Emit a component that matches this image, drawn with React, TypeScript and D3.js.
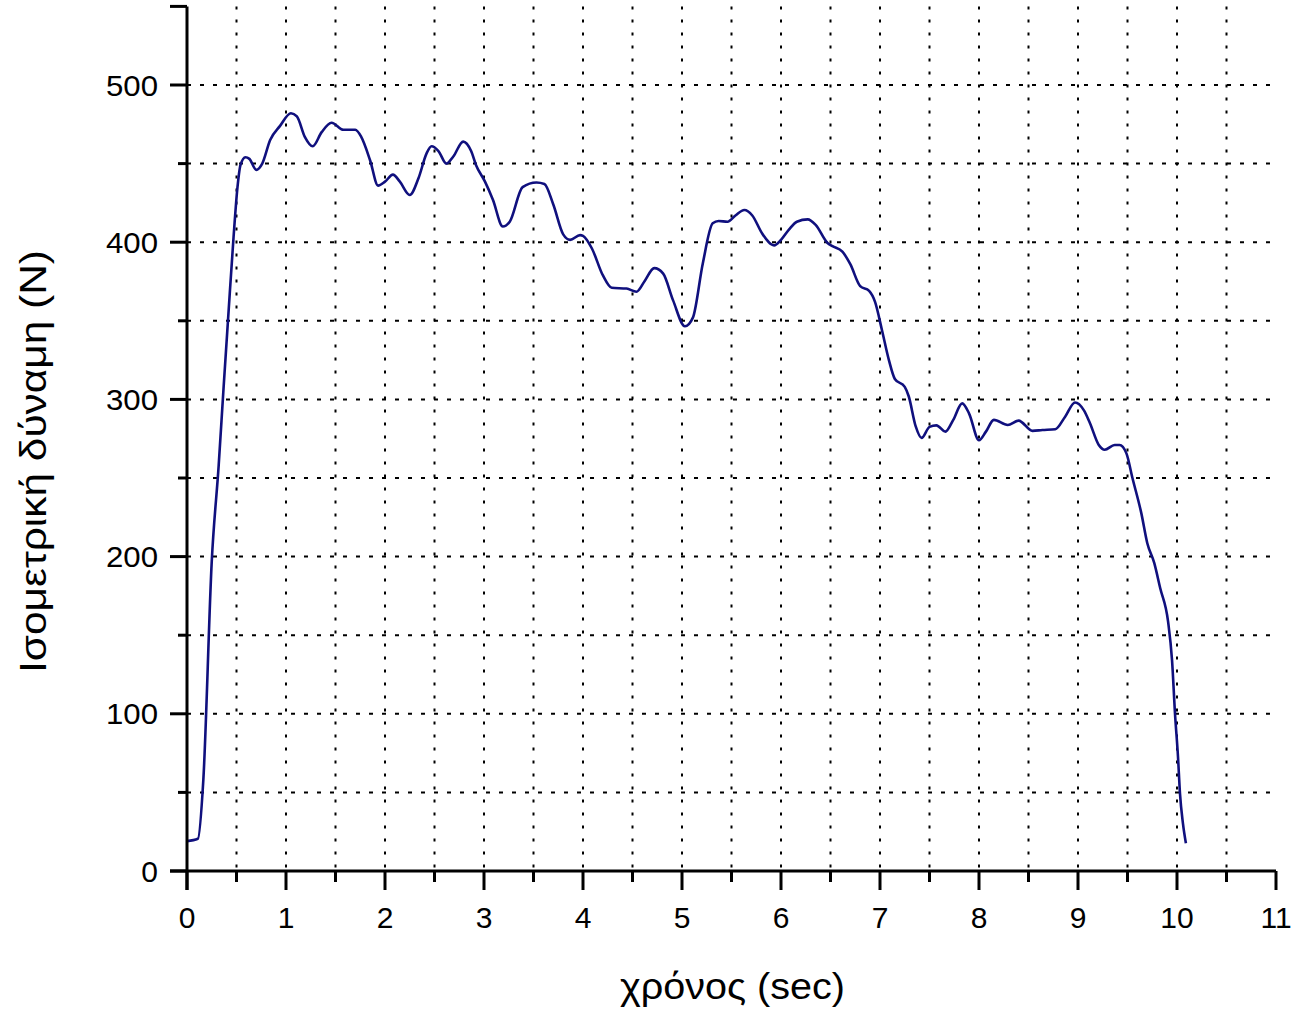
import React from "react";
import * as d3 from "d3";

const timeSec: number[] = [
  0, 0.11, 0.165, 0.25, 0.32, 0.37, 0.42, 0.47, 0.51, 0.54, 0.59, 0.63, 0.7, 0.76, 0.84, 0.94,
  1.05, 1.11, 1.19, 1.27, 1.36, 1.46, 1.58, 1.7, 1.76, 1.85, 1.93, 2.0, 2.08, 2.15, 2.25, 2.34,
  2.42, 2.47, 2.54, 2.62, 2.69, 2.79, 2.87, 2.92, 3.01, 3.09, 3.19, 3.26, 3.39, 3.53, 3.61, 3.7,
  3.8, 3.87, 3.97, 4.0, 4.09, 4.2, 4.29, 4.44, 4.54, 4.62, 4.72, 4.81, 4.91, 5.03, 5.11, 5.21,
  5.31, 5.37, 5.46, 5.54, 5.63, 5.71, 5.81, 5.93, 6.0, 6.08, 6.16, 6.27, 6.35, 6.47, 6.52, 6.62,
  6.7, 6.8, 6.89, 6.95, 7.02, 7.09, 7.15, 7.25, 7.29, 7.36, 7.42, 7.5, 7.57, 7.66, 7.74, 7.83,
  7.9, 8.0, 8.07, 8.15, 8.29, 8.4, 8.54, 8.64, 8.77, 8.87, 8.97, 9.06, 9.12, 9.21, 9.27, 9.37,
  9.42, 9.49, 9.55, 9.64, 9.7, 9.77, 9.83, 9.91, 9.95, 9.98, 10.01, 10.03, 10.06, 10.09,
];

const forceN: number[] = [
  19, 20.5, 58, 197, 258, 308, 356, 403, 435, 449, 454, 453, 446, 450, 465, 474,
  482, 480, 467, 461, 470, 476, 471.5, 471.5, 467, 452, 436, 438.5, 443, 438.5, 430, 441,
  456.5, 461, 458, 450, 454.5, 464, 458, 449, 438.5, 427, 410, 413, 435, 438, 437, 424,
  405, 401.5, 404.5, 404, 396, 379, 371, 370.5, 368.5, 375, 383.5, 380, 363, 346.5, 352, 386.5,
  412, 413.5, 413, 417, 420.5, 417, 405.5, 398, 401.5, 408, 413, 414.5, 411, 399.5, 397.5, 394,
  386, 372, 369, 362, 344, 325, 313, 308, 302, 283, 275.5, 282.5, 283.5, 279.5, 287, 297.5,
  291, 274, 279.5, 287, 283.7, 286.5, 280, 280.5, 281, 289, 298, 293, 285, 271, 268, 271,
  271, 265.5, 250, 227.5, 208.5, 196, 180, 158.6, 134, 100, 72.7, 49.4, 30.3, 17.6,
];

const xMajorTicks: number[] = [0, 1, 2, 3, 4, 5, 6, 7, 8, 9, 10, 11];
const xMinorTicks: number[] = [0.5, 1.5, 2.5, 3.5, 4.5, 5.5, 6.5, 7.5, 8.5, 9.5, 10.5];
const yMajorTicks: number[] = [0, 100, 200, 300, 400, 500];
const yMinorTicks: number[] = [50, 150, 250, 350, 450];
const xGrid: number[] = [0.5, 1, 1.5, 2, 2.5, 3, 3.5, 4, 4.5, 5, 5.5, 6, 6.5, 7, 7.5, 8, 8.5, 9, 9.5, 10, 10.5];
const yGrid: number[] = [50, 100, 150, 200, 250, 300, 350, 400, 450, 500];

const xTitle = "χρόνος (sec)";
const yTitle = "Ισομετρική δύναμη (N)";

export default function App() {
  const W = 1295;
  const H = 1011;
  const x = d3.scaleLinear().domain([0, 11]).range([187, 1276]);
  const y = d3.scaleLinear().domain([0, 550]).range([871, 6.4]);
  const pts: [number, number][] = timeSec.map((t, i) => [t, forceN[i]]);
  const line = d3
    .line<[number, number]>()
    .x((d) => x(d[0]))
    .y((d) => y(d[1]))
    .curve(d3.curveMonotoneX);
  const font = "'Liberation Sans', Arial, sans-serif";
  const x0 = x(0);
  const y0 = y(0);

  return (
    <svg
      width={W}
      height={H}
      style={{ position: "absolute", left: 0, top: 0, background: "#fff" }}
    >
      <rect x={0} y={0} width={W} height={H} fill="#fff" />
      {xGrid.map((g) => (
        <line
          key={"gx" + g}
          x1={x(g)}
          x2={x(g)}
          y1={y(550)}
          y2={y0}
          stroke="#000"
          strokeWidth={2}
          strokeDasharray="3,10"
        />
      ))}
      {yGrid.map((g) => (
        <line
          key={"gy" + g}
          x1={x0}
          x2={x(11)}
          y1={y(g)}
          y2={y(g)}
          stroke="#000"
          strokeWidth={2}
          strokeDasharray="4,9"
        />
      ))}
      <path
        d={line(pts) || ""}
        fill="none"
        stroke="#10107e"
        strokeWidth={2.6}
        strokeLinejoin="round"
      />
      <line x1={x0} x2={x0} y1={y(550)} y2={y0 + 19} stroke="#000" strokeWidth={3} />
      <line x1={170} x2={x(11)} y1={y0} y2={y0} stroke="#000" strokeWidth={3} />
      <line x1={170} x2={x0} y1={y(550)} y2={y(550)} stroke="#000" strokeWidth={3} />
      {yMajorTicks.map((t) => (
        <g key={"ym" + t}>
          <line x1={170} x2={x0} y1={y(t)} y2={y(t)} stroke="#000" strokeWidth={3} />
          <text
            x={158}
            y={y(t)}
            textAnchor="end"
            dominantBaseline="central"
            fontFamily={font}
            fontSize={30}
            textLength={t === 0 ? undefined : 52}
            lengthAdjust="spacingAndGlyphs"
            fill="#000"
          >
            {t}
          </text>
        </g>
      ))}
      {yMinorTicks.map((t) => (
        <line key={"yn" + t} x1={178} x2={x0} y1={y(t)} y2={y(t)} stroke="#000" strokeWidth={3} />
      ))}
      {xMajorTicks.map((t) => (
        <g key={"xm" + t}>
          <line x1={x(t)} x2={x(t)} y1={y0} y2={y0 + 19} stroke="#000" strokeWidth={3} />
          <text
            x={x(t)}
            y={928}
            textAnchor="middle"
            fontFamily={font}
            fontSize={30}
            fill="#000"
          >
            {t}
          </text>
        </g>
      ))}
      {xMinorTicks.map((t) => (
        <line key={"xn" + t} x1={x(t)} x2={x(t)} y1={y0} y2={y0 + 11} stroke="#000" strokeWidth={3} />
      ))}
      <text
        x={620}
        y={999}
        fontFamily={font}
        fontSize={36}
        textLength={225}
        lengthAdjust="spacingAndGlyphs"
        fill="#000"
      >
        {xTitle}
      </text>
      <text
        transform={`translate(46, 673) rotate(-90)`}
        fontFamily={font}
        fontSize={36}
        textLength={423}
        lengthAdjust="spacingAndGlyphs"
        fill="#000"
      >
        {yTitle}
      </text>
    </svg>
  );
}
